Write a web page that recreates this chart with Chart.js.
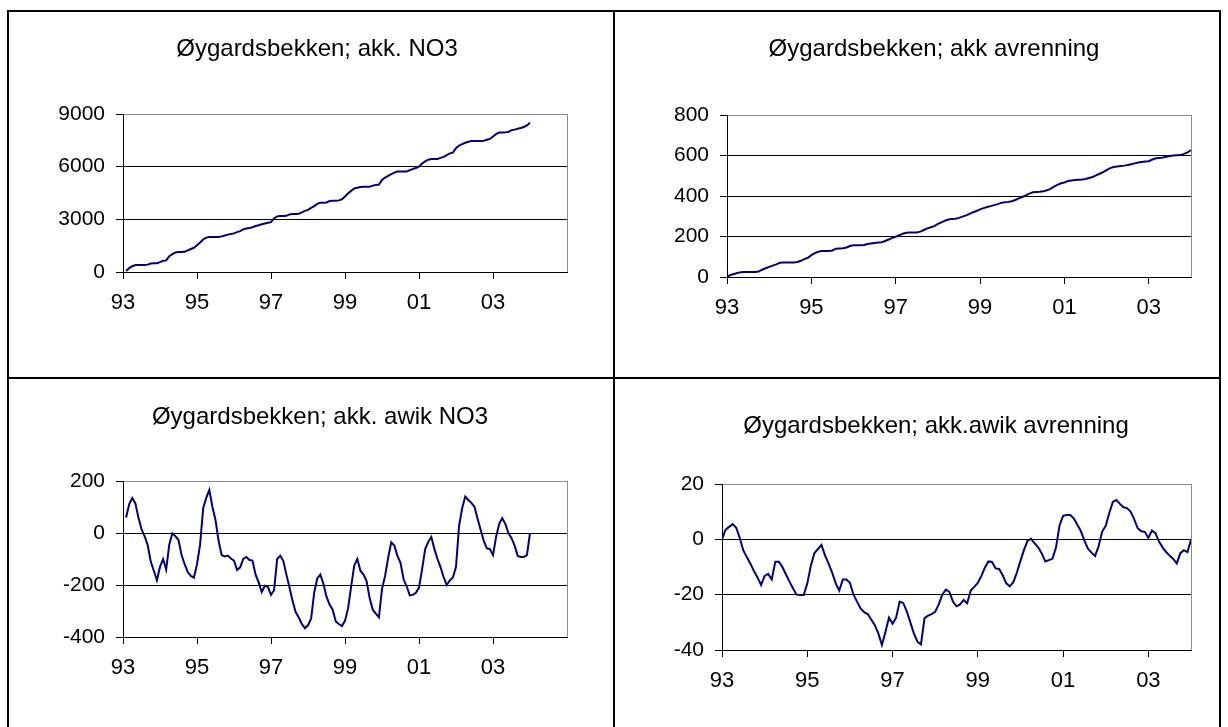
<!DOCTYPE html>
<html>
<head>
<meta charset="utf-8">
<script src="https://cdn.jsdelivr.net/npm/chart.js@4"></script>
<style>
  body { margin: 0; background: #fff; width: 1228px; height: 727px; overflow: hidden; position: relative; font-family: "Liberation Sans", Arial, sans-serif; }
  canvas { position: absolute; }
  .ttl { position: absolute; font-size: 24px; color: #000; white-space: nowrap; transform: translate(-50%, -50%); }
  .ln { position: absolute; background: #000; }
</style>
</head>
<body>
<canvas id="c1" width="614" height="378" style="left:0;top:0"></canvas>
<canvas id="c2" width="614" height="378" style="left:614px;top:0"></canvas>
<canvas id="c3" width="614" height="349" style="left:0;top:378px"></canvas>
<canvas id="c4" width="614" height="349" style="left:614px;top:378px"></canvas>

<div class="ttl" id="t1" style="left:317px;top:48px"></div>
<div class="ttl" id="t2" style="left:934px;top:48px"></div>
<div class="ttl" id="t3" style="left:320px;top:416px"></div>
<div class="ttl" id="t4" style="left:936px;top:425px"></div>

<!-- frame round the four panels -->
<div class="ln" style="left:7px;top:10px;width:1214px;height:2px"></div>
<div class="ln" style="left:7px;top:10px;width:2px;height:717px"></div>
<div class="ln" style="left:1219px;top:10px;width:2px;height:717px"></div>
<div class="ln" style="left:613px;top:10px;width:2px;height:717px"></div>
<div class="ln" style="left:7px;top:377px;width:1214px;height:2px"></div>

<script>
// titles
const titles = ['Øygardsbekken; akk. NO3', 'Øygardsbekken; akk avrenning',
                'Øygardsbekken; akk. awik NO3', 'Øygardsbekken; akk.awik avrenning'];

// x axis: years after Jan 1993, labelled every second year
const tickPos = [0, 2, 4, 6, 8, 10];
const tickLabels = ['93', '95', '97', '99', '01', '03'];

// akk. NO3, monthly, Feb 1993 - Jan 2004
const no3Akk = [
  60, 220, 330, 400, 400, 400, 400, 420, 480, 500, 500, 560,
  640, 660, 900, 1020, 1110, 1140, 1140, 1150, 1230, 1310, 1380, 1530,
  1680, 1850, 1960, 1990, 1990, 1990, 1990, 2030, 2080, 2130, 2170, 2200,
  2270, 2330, 2430, 2480, 2500, 2550, 2620, 2660, 2720, 2760, 2800, 2840,
  3050, 3170, 3190, 3190, 3200, 3280, 3300, 3300, 3320, 3400, 3480, 3540,
  3650, 3750, 3880, 3950, 3950, 3960, 4040, 4060, 4060, 4080, 4140, 4300,
  4480, 4620, 4760, 4800, 4840, 4860, 4860, 4860, 4920, 4960, 4980, 5250,
  5380, 5480, 5580, 5660, 5720, 5720, 5720, 5730, 5800, 5870, 5920, 6000,
  6180, 6300, 6400, 6430, 6440, 6440, 6500, 6560, 6660, 6760, 6800, 7050,
  7200, 7280, 7360, 7420, 7460, 7460, 7460, 7460, 7480, 7530, 7580, 7720,
  7850, 7950, 7950, 7960, 7980, 8080, 8110, 8160, 8200, 8260, 8350, 8500
];

// akk avrenning, monthly, Jan 1993 - Jan 2004
const avrAkk = [
  0,
  10, 15, 20, 24, 25, 25, 25, 25, 27, 36, 43, 50,
  56, 62, 70, 71, 71, 71, 72, 74, 80, 88, 95, 108,
  118, 125, 129, 129, 129, 131, 140, 141, 142, 146, 153, 157,
  157, 157, 158, 163, 166, 168, 170, 172, 178, 185, 193, 199,
  206, 214, 218, 220, 220, 220, 224, 232, 240, 246, 251, 262,
  270, 278, 284, 287, 288, 292, 298, 304, 312, 320, 326, 334,
  340, 346, 350, 355, 360, 366, 369, 371, 374, 380, 388, 395,
  403, 412, 418, 420, 421, 423, 428, 435, 446, 455, 463, 467,
  474, 477, 479, 480, 481, 484, 489, 494, 502, 510, 518, 528,
  538, 543, 546, 548, 550, 553, 557, 561, 565, 568, 570, 572,
  580, 586, 588, 590, 594, 598, 600, 601, 602, 608, 615, 627
];

// akk. avvik NO3, monthly, Feb 1993 - Jan 2004
const no3Avvik = [
  60, 110, 134, 115, 60, 15, -12, -46, -110, -145, -182, -130,
  -100, -141, -45, -1, -12, -27, -85, -120, -150, -165, -172, -120,
  -45, 95, 135, 166, 100, 50, -30, -85, -90, -87, -98, -106,
  -142, -132, -100, -92, -104, -106, -160, -190, -227, -203, -207, -238,
  -220, -100, -87, -108, -160, -210, -262, -304, -325, -350, -366, -355,
  -330, -230, -175, -160, -195, -245, -275, -295, -340, -350, -358, -338,
  -290, -205, -125, -100, -145, -160, -185, -250, -295, -310, -324, -215,
  -165, -95, -36, -48, -88, -115, -178, -205, -240, -238, -230, -210,
  -140, -62, -34, -15, -62, -100, -132, -170, -200, -182, -171, -130,
  28, 95, 140, 127, 116, 100, 55, 12, -30, -59, -62, -85,
  -15, 35, 57, 35, 0, -20, -48, -88, -92, -92, -85, 0
];

// akk. avvik avrenning, monthly, Jan 1993 - Jan 2004
const avrAvvik = [
  0,
  3.5, 4.5, 5.5, 4.2, 0.5, -4, -6.5, -8.8, -11.5, -13.8, -16.5, -13.2,
  -12.5, -14.5, -8.1, -8.1, -10, -12.7, -15.3, -17.8, -20, -20.1, -20.1, -16,
  -9.5, -5, -3.5, -2, -5.8, -8.8, -12, -15.9, -18.5, -14.5, -14.5, -15.7,
  -20, -22.5, -25, -26.3, -27, -29, -31, -34, -38.2, -33.5, -28.3, -30.5,
  -28.3, -22.5, -23, -26, -30, -34, -37, -38, -28.5, -27.6, -27, -26.2,
  -23.5, -20, -18.2, -19, -22.5, -24.2, -23.5, -21.9, -23.1, -18.5, -17.2, -15.8,
  -13.2, -10.2, -8, -8.2, -10.5, -10.7, -13, -15.9, -17, -15.5, -12, -7.8,
  -3.8, -0.5, 0.2, -1.5, -2.9, -5.1, -8, -7.5, -7, -3, 5, 8.5,
  8.8, 8.8, 7.6, 5.3, 3, -0.5, -3.4, -4.8, -6, -2.5, 2.8, 4.9,
  9.5, 13.5, 14.2, 12.8, 11.6, 11.3, 10, 7.3, 4, 2.9, 2.7, 0.5,
  3.2, 2.2, -0.8, -2.9, -4.6, -5.9, -7.1, -8.7, -5, -3.9, -4.6, -0.2
];

const fontFam = '"Liberation Sans", Arial, sans-serif';
const gray = '#8c8c8c';

for (let i = 0; i < 4; i++) document.getElementById('t' + (i + 1)).textContent = titles[i];

function panel(id, values, firstMonth, xMax, yMin, yMax, yStep, yWidth, padRight, padTop, xHeight) {
  const pts = values.map((v, i) => ({ x: (firstMonth + i) / 12, y: v }));
  return new Chart(document.getElementById(id), {
    type: 'line',
    data: { datasets: [{ data: pts, borderColor: '#000080', borderWidth: 2, pointRadius: 0, tension: 0, fill: false }] },
    options: {
      responsive: false,
      animation: false,
      events: [],
      layout: { padding: { top: padTop, right: padRight, bottom: 0, left: 0 } },
      plugins: { legend: { display: false }, tooltip: { enabled: false } },
      scales: {
        x: {
          type: 'linear', min: 0, max: xMax,
          afterBuildTicks: s => { s.ticks = tickPos.concat([xMax]).map(v => ({ value: v })); },
          afterFit: s => { s.height = xHeight; },
          ticks: { autoSkip: false, maxRotation: 0, padding: 11, color: '#000',
                   font: { family: fontFam, size: 22 },
                   callback: (v, i) => tickLabels[i] || '' },
          grid: { drawOnChartArea: true, tickLength: 7,
                  color: c => (c.tick && c.tick.value === xMax) ? gray : 'rgba(0,0,0,0)',
                  tickColor: c => (c.tick && c.tick.value === xMax) ? 'rgba(0,0,0,0)' : '#000' },
          border: { color: '#000', width: 1 }
        },
        y: {
          min: yMin, max: yMax,
          afterFit: s => { s.width = yWidth; },
          ticks: { stepSize: yStep, padding: 11, color: '#000', font: { family: fontFam, size: 21 },
                   callback: v => String(v) },
          grid: { tickLength: 7, tickColor: '#000',
                  color: c => (c.tick && c.tick.value === yMax) ? gray : '#000' },
          border: { color: '#000', width: 1 }
        }
      }
    }
  });
}

panel('c1', no3Akk, 1, 12, 0, 9000, 3000, 123, 47, 114, 106);
panel('c2', avrAkk, 0, 11, 0, 800, 200, 113, 37, 115, 101);
panel('c3', no3Avvik, 1, 12, -400, 200, 200, 123, 47, 103, 90);
panel('c4', avrAvvik, 0, 11, -40, 20, 20, 108, 37, 106, 77);
</script>
</body>
</html>
